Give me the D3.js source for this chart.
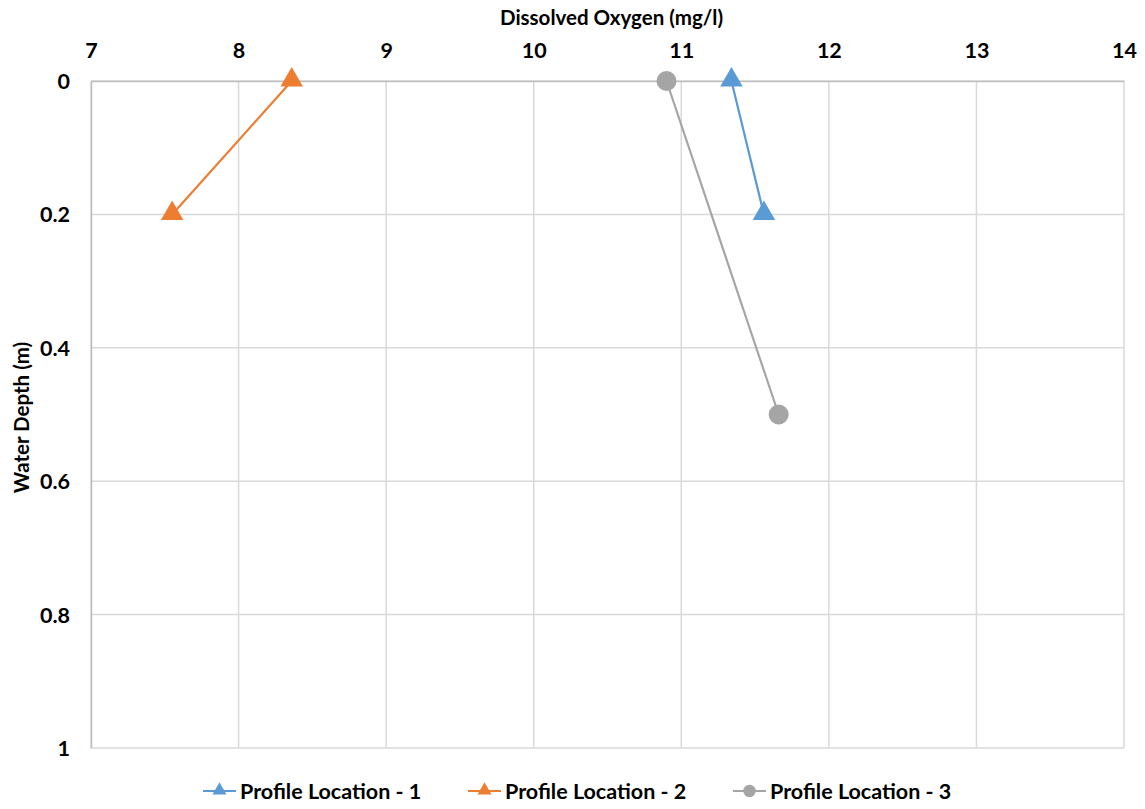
<!DOCTYPE html>
<html>
<head>
<meta charset="utf-8">
<script src="https://cdn.jsdelivr.net/npm/d3@7"></script>
<style>
  html, body { margin: 0; padding: 0; background: #fff; }
  svg { display: block; font-family: Lato, "Open Sans", sans-serif; }
</style>
</head>
<body>
<svg id="chart" width="1145" height="809"></svg>
<script>
// Dissolved oxygen profiles by depth
const seriesNames = ["Profile Location - 1", "Profile Location - 2", "Profile Location - 3"];
const seriesColors = ["#5b9bd5", "#ed7d31", "#a5a5a5"];
const seriesShapes = ["triangle", "triangle", "circle"];
const loc1DO = [11.34, 11.56];
const loc1Depth = [0, 0.2];
const loc2DO = [8.36, 7.55];
const loc2Depth = [0, 0.2];
const loc3DO = [10.9, 11.66];
const loc3Depth = [0, 0.5];
const xTicks = [7, 8, 9, 10, 11, 12, 13, 14];
const yTicks = [0, 0.2, 0.4, 0.6, 0.8, 1];

const series = [
  { name: seriesNames[0], color: seriesColors[0], shape: seriesShapes[0], pts: loc1DO.map((v, i) => [v, loc1Depth[i]]) },
  { name: seriesNames[1], color: seriesColors[1], shape: seriesShapes[1], pts: loc2DO.map((v, i) => [v, loc2Depth[i]]) },
  { name: seriesNames[2], color: seriesColors[2], shape: seriesShapes[2], pts: loc3DO.map((v, i) => [v, loc3Depth[i]]) }
];

const svg = d3.select("#chart");
const plotL = 91, plotR = 1124, plotT = 81, plotB = 748;

const x = d3.scaleLinear().domain([7, 14]).range([plotL, plotR]);
const y = d3.scaleLinear().domain([0, 1]).range([plotT, plotB]);

// gridlines
const grid = svg.append("g");
grid.selectAll("line.v").data(xTicks).join("line").attr("class", "v")
  .attr("x1", d => x(d)).attr("x2", d => x(d))
  .attr("y1", plotT).attr("y2", plotB)
  .attr("stroke", "#d9d9d9").attr("stroke-width", 1.5);
grid.selectAll("line.h").data(yTicks).join("line").attr("class", "h")
  .attr("x1", plotL).attr("x2", plotR)
  .attr("y1", d => y(d)).attr("y2", d => y(d))
  .attr("stroke", "#d9d9d9").attr("stroke-width", 1.5);

// axes (top x axis, left y axis)
const xAxis = svg.append("g").attr("transform", `translate(0,${plotT})`)
  .call(d3.axisTop(x).tickValues(xTicks).tickSize(0).tickPadding(23).tickFormat(d3.format("d")));
const yAxis = svg.append("g").attr("transform", `translate(${plotL},0)`)
  .call(d3.axisLeft(y).tickValues(yTicks).tickSize(0).tickPadding(21).tickFormat(d => d === 0 || d === 1 ? d3.format("d")(d) : d3.format(".1f")(d)));
[xAxis, yAxis].forEach(a => {
  a.select(".domain").attr("stroke", "#bfbfbf").attr("stroke-width", 1.5);
  a.selectAll("text").attr("font-size", 21.5).attr("font-weight", "bold").attr("fill", "#000")
    .attr("font-family", "Lato, 'Open Sans', sans-serif");
});
yAxis.selectAll("text").attr("dy", "0.35em");

// axis titles
svg.append("text").attr("x", (plotL + plotR) / 2 + 4).attr("y", 25)
  .attr("text-anchor", "middle").attr("font-size", 20.5).attr("font-weight", "bold")
  .text("Dissolved Oxygen (mg/l)");
svg.append("text").attr("transform", `translate(29,${(plotT + plotB) / 2 + 3}) rotate(-90)`)
  .attr("text-anchor", "middle").attr("font-size", 20.5).attr("font-weight", "bold")
  .text("Water Depth (m)");

const line = d3.line().x(d => x(d[0])).y(d => y(d[1]));

function drawMarker(g, shape, color, cx, cy, scale) {
  if (shape === "circle") {
    g.append("circle").attr("cx", cx).attr("cy", cy).attr("r", 10 * scale).attr("fill", color);
  } else {
    g.append("path").attr("d", d3.symbol().type(d3.symbolTriangle).size(220 * scale * scale)())
      .attr("transform", `translate(${cx},${cy - 1 * scale})`).attr("fill", color);
  }
}

series.forEach(s => {
  const g = svg.append("g");
  g.append("path").datum(s.pts).attr("d", line)
    .attr("fill", "none").attr("stroke", s.color).attr("stroke-width", 2.2);
  s.pts.forEach(p => drawMarker(g, s.shape, s.color, x(p[0]), y(p[1]), 1));
});

// legend
const legendX = [203, 468, 733];
series.forEach((s, i) => {
  const g = svg.append("g").attr("transform", `translate(${legendX[i]},791)`);
  g.append("line").attr("x1", 0).attr("x2", 33).attr("y1", 0).attr("y2", 0)
    .attr("stroke", s.color).attr("stroke-width", 2.2);
  drawMarker(g, s.shape, s.color, 16.5, 0, 0.62);
  g.append("text").attr("x", 37).attr("y", 0).attr("dy", "0.35em")
    .attr("font-size", 21.5).attr("font-weight", "bold").text(s.name);
});
</script>
</body>
</html>
